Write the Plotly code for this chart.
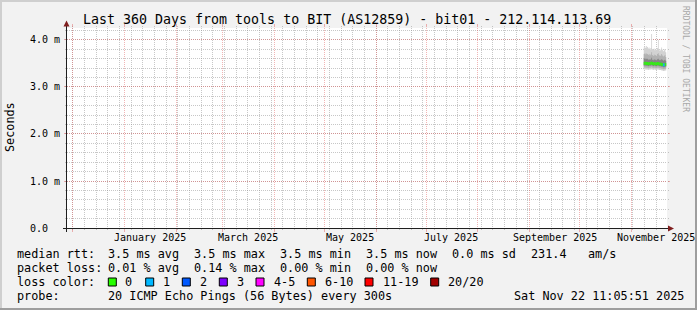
import plotly.graph_objects as go
import pandas as pd

# ---------------- data ----------------
title_text = "Last 360 Days from tools to BIT (AS12859) - bit01 - 212.114.113.69"
range_end = pd.Timestamp("2025-11-22 11:05:51")
range_start = range_end - pd.Timedelta(days=360)

# consolidated 12h steps (end times) that carry data
step_ends = pd.date_range("2025-11-09 00:00", "2025-11-22 00:00", freq="12h")
step = pd.Timedelta(hours=12)

# smoke quantiles in ms
smoke_top = [3.84, 3.86, 3.83, 3.87, 3.85, 3.82, 3.84, 3.80, 3.83, 4.13, 3.81, 3.79, 3.82, 3.78,
             3.80, 3.79, 3.83, 4.00, 3.81, 3.77, 3.80, 3.84, 3.79, 3.76, 3.78, 3.81, 3.74]
smoke_hi2 = [3.70, 3.72, 3.69, 3.71, 3.70, 3.68, 3.70, 3.67, 3.69, 3.74, 3.68, 3.66, 3.69, 3.67,
             3.68, 3.66, 3.70, 3.72, 3.68, 3.66, 3.67, 3.70, 3.67, 3.65, 3.66, 3.68, 3.64]
smoke_hi1 = [3.60, 3.61, 3.59, 3.60, 3.60, 3.58, 3.59, 3.58, 3.59, 3.62, 3.58, 3.57, 3.59, 3.58,
             3.58, 3.57, 3.59, 3.60, 3.58, 3.57, 3.58, 3.59, 3.58, 3.56, 3.57, 3.58, 3.56]
median_rtt = [3.50, 3.51, 3.50, 3.50, 3.50, 3.49, 3.50, 3.50, 3.50, 3.51, 3.50, 3.49, 3.50, 3.50,
              3.49, 3.49, 3.50, 3.50, 3.49, 3.49, 3.49, 3.48, 3.48, 3.47, 3.47, 3.48, 3.48]
smoke_lo1 = [3.45, 3.46, 3.45, 3.45, 3.45, 3.44, 3.45, 3.45, 3.45, 3.46, 3.45, 3.44, 3.45, 3.45,
             3.44, 3.44, 3.45, 3.45, 3.44, 3.44, 3.44, 3.43, 3.43, 3.42, 3.42, 3.43, 3.43]
smoke_lo2 = [3.41, 3.42, 3.41, 3.41, 3.41, 3.40, 3.41, 3.41, 3.41, 3.42, 3.41, 3.40, 3.41, 3.41,
             3.40, 3.40, 3.41, 3.41, 3.40, 3.40, 3.40, 3.39, 3.39, 3.38, 3.38, 3.39, 3.39]
smoke_bot = [3.37, 3.38, 3.37, 3.37, 3.37, 3.36, 3.37, 3.37, 3.37, 3.38, 3.37, 3.36, 3.37, 3.37,
             3.36, 3.36, 3.37, 3.37, 3.36, 3.36, 3.36, 3.35, 3.35, 3.34, 3.34, 3.35, 3.35]
loss_bucket = [0] * 23 + [1, 1] + [0, 0]

loss_labels = ["0", "1", "2", "3", "4-5", "6-10", "11-19", "20/20"]
loss_colors = ["#26ff00", "#00b8ff", "#0059ff", "#7e00ff", "#ff00ff", "#ff5500", "#ff0000", "#a10000"]

month_starts = pd.date_range("2024-12-01", "2025-11-01", freq="MS")
month_labels = ["January 2025", "March 2025", "May 2025", "July 2025", "September 2025", "November 2025"]
month_label_dates = pd.to_datetime(["2025-01-16", "2025-03-16", "2025-05-16",
                                    "2025-07-16", "2025-09-16", "2025-11-16"])
y_major = [0, 1, 2, 3, 4]
y_labels = ["0.0", "1.0 m", "2.0 m", "3.0 m", "4.0 m"]
y_max = 4.255

legend_rows = [
    [("median rtt:", 16), ("3.5 ms avg", 107.3), ("3.5 ms max", 193.3), ("3.5 ms min", 279),
     ("3.5 ms now", 365), ("0.0 ms sd", 451), ("231.4", 530), ("am/s", 586.7)],
    [("packet loss:", 16), ("0.01 % avg", 107.3), ("0.14 % max", 193.3), ("0.00 % min", 279),
     ("0.00 % now", 365)],
    [("loss color:", 16)],
    [("probe:", 16), ("20 ICMP Echo Pings (56 Bytes) every 300s", 107.3),
     ("Sat Nov 22 11:05:51 2025", 513.3)],
]
legend_row_y = [254.3, 268.3, 282, 296]
loss_box_x = [108.3, 145.7, 182.3, 219.3, 256, 307.3, 365, 430.7]
loss_label_x = [124, 162, 198.7, 236, 273, 324, 381.7, 447]

# ---------------- layout geometry ----------------
W, H = 697, 310
L, R, T, B = 67, 30, 28, 82
PW, PH = W - L - R, H - T - B
FONT = "DejaVu Sans Mono"


def ax(px):
    return (px - L) / PW


def ay(py):
    return (T + PH - py) / PH


fig = go.Figure()

# smoke bands as step areas
xs = list(step_ends - step) + [step_ends[-1]]


def stepv(v):
    return list(v) + [v[-1]]


bands = [
    (smoke_bot, smoke_top, "#d2d2d2"),
    (smoke_lo2, smoke_hi2, "#b2b2b2"),
    (smoke_lo1, smoke_hi1, "#858585"),
]
for lo, hi, col in bands:
    fig.add_trace(go.Scatter(x=xs, y=stepv(lo), mode="lines", line=dict(width=0, shape="hv"),
                             showlegend=False, hoverinfo="skip"))
    fig.add_trace(go.Scatter(x=xs, y=stepv(hi), mode="lines", line=dict(width=0, shape="hv"),
                             fill="tonexty", fillcolor=col, showlegend=False, hoverinfo="skip"))

# median line coloured by loss bucket
for b, col in enumerate(loss_colors):
    sx, sy = [], []
    for i, e in enumerate(step_ends):
        if loss_bucket[i] == b:
            sx += [e - step, e, None]
            sy += [median_rtt[i], median_rtt[i], None]
    if sx:
        fig.add_trace(go.Scatter(x=sx, y=sy, mode="lines", line=dict(color=col, width=3),
                                 showlegend=False, hoverinfo="skip"))

GRID = "rgba(143,143,143,0.5)"
MGRID = "rgba(222,79,79,0.42)"

fig.update_xaxes(
    type="date", range=[range_start, range_end], showline=False, zeroline=False,
    tickmode="array", tickvals=list(month_starts), showticklabels=False,
    showgrid=True, gridcolor=MGRID, gridwidth=1, griddash="1px,1px",
    ticks="outside", ticklen=3, tickcolor=MGRID, mirror="ticks",
    minor=dict(tickmode="linear", tick0="2024-12-01", dtick=7 * 86400000,
               showgrid=True, gridcolor=GRID, gridwidth=1, griddash="1px,1px",
               ticks="outside", ticklen=1, tickcolor=GRID),
    fixedrange=True,
)
fig.update_yaxes(
    range=[0, y_max], showline=False, zeroline=False,
    tickmode="array", tickvals=y_major, showticklabels=False,
    showgrid=True, gridcolor=MGRID, gridwidth=1, griddash="1px,1px",
    ticks="outside", ticklen=2, tickcolor=MGRID, mirror="ticks",
    minor=dict(tickmode="linear", tick0=0, dtick=0.2, showgrid=True, gridcolor=GRID,
               gridwidth=1, griddash="1px,1px", ticks="outside", ticklen=1, tickcolor=GRID),
    fixedrange=True,
)

shapes = []
# 3D border
shapes.append(dict(type="rect", xref="paper", yref="paper", x0=ax(0), x1=ax(W), y0=ay(0), y1=ay(2),
                   fillcolor="#cfcfcf", line=dict(width=0), layer="above"))
shapes.append(dict(type="rect", xref="paper", yref="paper", x0=ax(0), x1=ax(2), y0=ay(0), y1=ay(H),
                   fillcolor="#cfcfcf", line=dict(width=0), layer="above"))
shapes.append(dict(type="rect", xref="paper", yref="paper", x0=ax(0), x1=ax(W), y0=ay(H - 2), y1=ay(H),
                   fillcolor="#9e9e9e", line=dict(width=0), layer="above"))
shapes.append(dict(type="rect", xref="paper", yref="paper", x0=ax(W - 2), x1=ax(W), y0=ay(0), y1=ay(H),
                   fillcolor="#9e9e9e", line=dict(width=0), layer="above"))
# axes
shapes.append(dict(type="line", xref="paper", yref="paper", x0=ax(63), x1=ax(669), y0=ay(228.5), y1=ay(228.5),
                   line=dict(color="#1f1f1f", width=1), layer="above"))
shapes.append(dict(type="line", xref="paper", yref="paper", x0=ax(66.5), x1=ax(66.5), y0=ay(232), y1=ay(25),
                   line=dict(color="#1f1f1f", width=1), layer="above"))
# arrows
shapes.append(dict(type="path", xref="paper", yref="paper",
                   path=f"M {ax(668)},{ay(225.5)} L {ax(674)},{ay(228.5)} L {ax(668)},{ay(231.5)} Z",
                   fillcolor="#801f1f", line=dict(width=0), layer="above"))
shapes.append(dict(type="path", xref="paper", yref="paper",
                   path=f"M {ax(63.5)},{ay(26.5)} L {ax(66.5)},{ay(20.5)} L {ax(69.5)},{ay(26.5)} Z",
                   fillcolor="#801f1f", line=dict(width=0), layer="above"))
# loss colour boxes
for bx, col in zip(loss_box_x, loss_colors):
    shapes.append(dict(type="rect", xref="paper", yref="paper", x0=ax(bx), x1=ax(bx + 8),
                       y0=ay(legend_row_y[2] + 4), y1=ay(legend_row_y[2] - 4),
                       fillcolor=col, line=dict(color="#000000", width=1), layer="above"))

ann = []
ann.append(dict(text=title_text, xref="paper", yref="paper", x=ax(347), y=ay(19), xanchor="center",
                yanchor="middle", showarrow=False, font=dict(family=FONT, size=13.3, color="#000")))
ann.append(dict(text="Seconds", xref="paper", yref="paper", x=ax(10), y=ay(127), xanchor="center",
                yanchor="middle", textangle=-90, showarrow=False,
                font=dict(family=FONT, size=11.8, color="#000")))
ann.append(dict(text="RRDTOOL / TOBI OETIKER", xref="paper", yref="paper", x=ax(686), y=ay(59),
                xanchor="center", yanchor="middle", textangle=90, showarrow=False,
                font=dict(family=FONT, size=8, color="#a8a8a8")))
for v, lab in zip(y_major, y_labels):
    right = 61 if lab.endswith("m") else 49
    ann.append(dict(text=lab, xref="paper", yref="y", x=ax(right), y=v, xanchor="right",
                    yanchor="middle", showarrow=False, borderpad=0,
                    font=dict(family=FONT, size=10, color="#000")))
for d, lab in zip(month_label_dates, month_labels):
    ann.append(dict(text=lab, xref="x", yref="paper", x=d, y=ay(237), xanchor="center",
                    yanchor="middle", showarrow=False, borderpad=0,
                    font=dict(family=FONT, size=10, color="#000")))
for row, yy in zip(legend_rows, legend_row_y):
    for txt, xx in row:
        ann.append(dict(text=txt, xref="paper", yref="paper", x=ax(xx), y=ay(yy), xanchor="left",
                        yanchor="middle", showarrow=False, borderpad=0,
                        font=dict(family=FONT, size=11.8, color="#000")))
for lab, xx in zip(loss_labels, loss_label_x):
    ann.append(dict(text=lab, xref="paper", yref="paper", x=ax(xx), y=ay(legend_row_y[2]),
                    xanchor="left", yanchor="middle", showarrow=False, borderpad=0,
                    font=dict(family=FONT, size=11.8, color="#000")))

fig.update_layout(
    width=W, height=H, margin=dict(l=L, r=R, t=T, b=B, pad=0),
    paper_bgcolor="#f2f2f2", plot_bgcolor="#ffffff",
    shapes=shapes, annotations=ann, showlegend=False,
    font=dict(family=FONT),
)

fig.write_html("out.html", config={"displayModeBar": False, "staticPlot": True})
